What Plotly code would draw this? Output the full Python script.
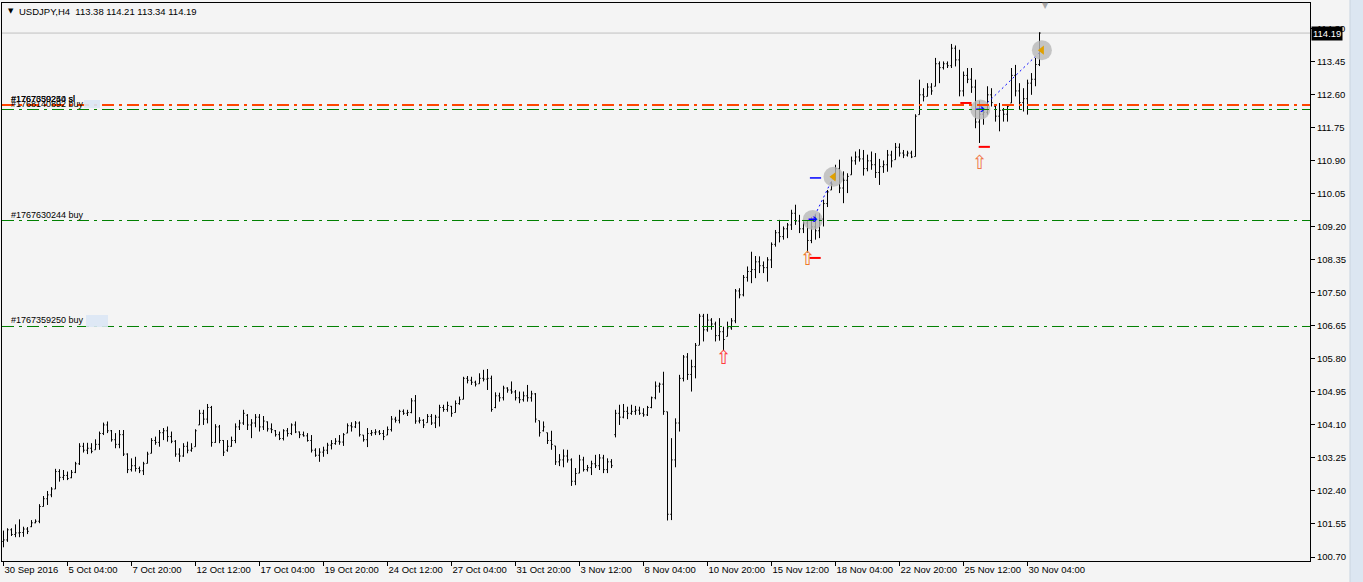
import plotly.graph_objects as go

# ---------------- data ----------------
x_tick_labels = ["30 Sep 2016", "5 Oct 04:00", "7 Oct 20:00", "12 Oct 12:00", "17 Oct 04:00",
                 "19 Oct 20:00", "24 Oct 12:00", "27 Oct 04:00", "31 Oct 20:00", "3 Nov 12:00",
                 "8 Nov 04:00", "10 Nov 20:00", "15 Nov 12:00", "18 Nov 04:00", "22 Nov 20:00",
                 "25 Nov 12:00", "30 Nov 04:00"]
x_tick_bars = [0, 16, 32, 48, 64, 80, 96, 112, 128, 144, 160, 176, 192, 208, 224, 240, 256]

price_ticks = [100.70, 101.55, 102.40, 103.25, 104.10, 104.95, 105.80, 106.65, 107.50,
               108.35, 109.20, 110.05, 110.90, 111.75, 112.60, 113.45, 114.30]

bar_open = [
    101.10, 101.14, 101.40, 101.28, 101.32, 101.33, 101.42, 101.48, 101.58, 101.62,
    102.00, 102.20, 102.30, 102.45, 102.90, 102.75, 102.80, 102.74, 102.88, 103.10,
    103.55, 103.45, 103.50, 103.46, 103.60, 103.88, 104.10, 103.95, 103.72, 103.60,
    103.85, 103.35, 102.95, 103.05, 102.98, 102.92, 103.11, 103.37, 103.70, 103.65,
    103.90, 103.95, 103.80, 103.68, 103.35, 103.30, 103.55, 103.45, 103.54, 104.10,
    104.40, 104.25, 104.55, 103.65, 104.05, 103.70, 103.45, 103.55, 103.70, 104.05,
    104.15, 104.35, 104.10, 104.15, 104.30, 104.05, 104.18, 104.00, 103.95, 103.85,
    103.75, 103.95, 103.88, 104.10, 103.92, 103.85, 103.82, 103.70, 103.45, 103.32,
    103.40, 103.45, 103.58, 103.62, 103.68, 103.66, 103.89, 104.08, 104.05, 104.15,
    103.84, 103.72, 103.88, 103.90, 103.92, 103.88, 103.84, 103.98, 104.25, 104.22,
    104.45, 104.40, 104.42, 104.72, 104.20, 104.22, 104.16, 104.32, 104.15, 104.30,
    104.55, 104.50, 104.58, 104.42, 104.65, 104.76, 105.30, 105.25, 105.20, 105.16,
    105.30, 105.28, 105.30, 104.55, 104.85, 104.80, 105.05, 105.00, 104.95, 104.80,
    104.75, 104.85, 104.80, 104.90, 104.21, 103.95, 103.90, 103.70, 103.56, 103.15,
    103.20, 103.30, 103.20, 102.65, 102.86, 103.20, 102.95, 103.00, 103.10, 103.05,
    103.25, 102.95, 103.15, 103.85, 104.40, 104.30, 104.45, 104.40, 104.45, 104.48,
    104.40, 104.36, 104.55, 104.80, 105.10, 105.15, 104.44, 101.80, 103.20, 104.15,
    105.30, 105.85, 105.40, 105.60, 106.15, 106.90, 106.55, 106.80, 106.70, 106.40,
    106.50, 106.38, 106.60, 106.78, 107.55, 107.45, 107.90, 108.05, 108.10, 108.30,
    108.20, 108.15, 108.35, 108.75, 109.05, 108.95, 109.15, 109.25, 109.55, 109.35,
    109.15, 109.30, 108.85, 109.20, 109.10, 109.40, 109.80, 110.15, 110.41, 110.70,
    110.20, 110.40, 110.54, 110.90, 111.00, 110.95, 110.70, 110.90, 110.80, 110.60,
    110.75, 110.80, 111.05, 110.93, 111.25, 111.10, 111.05, 111.10, 111.01, 112.09,
    112.60, 112.56, 112.80, 112.82, 113.40, 113.30, 113.40, 113.35, 113.80, 113.50,
    112.70, 113.10, 113.00, 112.80, 111.90, 112.10, 112.15, 112.60, 112.30, 112.05,
    112.20, 112.10, 112.39, 113.10, 112.70, 112.40, 112.50, 112.90, 113.00, 113.38]

bar_high = [
    101.38, 101.44, 101.44, 101.54, 101.67, 101.48, 101.47, 101.65, 101.67, 102.06,
    102.27, 102.40, 102.50, 102.97, 102.96, 102.94, 102.90, 102.94, 103.15, 103.63,
    103.64, 103.64, 103.63, 103.73, 103.93, 104.16, 104.19, 103.97, 103.89, 103.97,
    103.97, 103.37, 103.24, 103.28, 103.03, 103.15, 103.41, 103.76, 103.80, 103.97,
    104.02, 104.06, 103.93, 103.71, 103.50, 103.63, 103.67, 103.63, 103.99, 104.49,
    104.49, 104.64, 104.59, 104.12, 104.10, 103.71, 103.71, 103.80, 104.14, 104.23,
    104.49, 104.38, 104.25, 104.38, 104.38, 104.33, 104.19, 104.14, 103.97, 103.93,
    103.99, 104.02, 104.14, 104.19, 103.93, 103.93, 103.89, 103.84, 103.50, 103.50,
    103.54, 103.64, 103.71, 103.76, 103.84, 103.89, 104.14, 104.17, 104.20, 104.19,
    103.84, 104.02, 103.97, 103.99, 103.97, 103.97, 104.06, 104.33, 104.31, 104.49,
    104.50, 104.49, 104.79, 104.87, 104.30, 104.25, 104.38, 104.38, 104.36, 104.62,
    104.62, 104.70, 104.59, 104.73, 104.83, 105.34, 105.36, 105.34, 105.24, 105.43,
    105.52, 105.54, 105.37, 104.94, 104.93, 105.11, 105.07, 105.22, 105.00, 104.96,
    104.96, 105.13, 104.98, 104.92, 104.21, 104.19, 103.90, 103.95, 103.56, 103.35,
    103.47, 103.46, 103.24, 102.99, 103.33, 103.28, 103.07, 103.18, 103.33, 103.35,
    103.33, 103.24, 103.22, 104.49, 104.62, 104.64, 104.57, 104.62, 104.59, 104.57,
    104.53, 104.59, 104.83, 105.22, 105.19, 105.47, 104.44, 103.76, 104.27, 105.39,
    105.90, 105.95, 105.78, 106.21, 106.96, 106.96, 106.96, 106.85, 106.76, 106.85,
    106.63, 106.76, 106.85, 107.60, 107.62, 107.96, 108.18, 108.56, 108.45, 108.44,
    108.31, 108.42, 108.80, 109.12, 109.38, 109.21, 109.30, 109.64, 109.77, 109.51,
    109.38, 109.38, 109.45, 109.51, 109.55, 109.90, 110.15, 110.37, 110.80, 110.93,
    110.63, 110.58, 111.01, 111.14, 111.20, 111.18, 111.06, 111.14, 111.10, 110.95,
    110.91, 111.18, 111.16, 111.36, 111.35, 111.18, 111.16, 111.16, 112.10, 112.99,
    112.77, 112.90, 112.90, 113.55, 113.46, 113.46, 113.46, 113.91, 113.87, 113.76,
    113.20, 113.29, 113.29, 112.99, 112.45, 112.22, 112.82, 112.77, 112.34, 112.39,
    112.26, 112.34, 113.29, 113.37, 112.90, 112.77, 112.99, 113.16, 113.55, 114.21]

bar_low = [
    100.95, 101.09, 101.24, 101.21, 101.21, 101.22, 101.29, 101.47, 101.57, 101.57,
    102.00, 102.04, 102.24, 102.45, 102.64, 102.68, 102.68, 102.73, 102.86, 103.07,
    103.39, 103.35, 103.37, 103.46, 103.46, 103.84, 103.89, 103.67, 103.50, 103.50,
    103.30, 102.86, 102.90, 102.90, 102.86, 102.81, 103.11, 103.37, 103.59, 103.54,
    103.71, 103.67, 103.63, 103.28, 103.15, 103.28, 103.37, 103.41, 103.54, 104.10,
    104.10, 104.14, 103.54, 103.64, 103.63, 103.30, 103.41, 103.54, 103.63, 103.97,
    104.10, 103.97, 103.76, 104.04, 103.93, 103.97, 103.93, 103.89, 103.80, 103.71,
    103.70, 103.80, 103.84, 103.89, 103.76, 103.80, 103.67, 103.39, 103.28, 103.15,
    103.28, 103.35, 103.47, 103.59, 103.59, 103.56, 103.89, 103.93, 104.02, 103.80,
    103.67, 103.53, 103.82, 103.84, 103.84, 103.71, 103.84, 103.93, 104.16, 104.14,
    104.36, 104.33, 104.40, 104.13, 104.14, 104.02, 104.16, 104.10, 104.02, 104.06,
    104.44, 104.44, 104.31, 104.42, 104.62, 104.76, 105.17, 105.13, 105.09, 105.16,
    105.22, 105.00, 104.44, 104.53, 104.70, 104.73, 104.93, 104.90, 104.73, 104.66,
    104.70, 104.70, 104.70, 104.16, 103.80, 103.93, 103.61, 103.46, 103.07, 103.04,
    103.01, 103.13, 102.53, 102.55, 102.86, 102.90, 102.90, 102.81, 102.99, 102.94,
    102.86, 102.86, 102.99, 103.78, 104.10, 104.27, 104.25, 104.36, 104.36, 104.36,
    104.31, 104.33, 104.53, 104.76, 104.93, 104.36, 101.64, 101.65, 103.01, 103.93,
    105.22, 105.26, 104.96, 105.30, 106.16, 106.25, 106.50, 106.55, 106.25, 106.27,
    106.01, 106.38, 106.55, 106.72, 107.36, 107.41, 107.79, 107.75, 107.88, 108.01,
    108.01, 107.79, 108.14, 108.69, 108.80, 108.87, 108.91, 109.12, 109.25, 109.04,
    109.04, 108.54, 108.78, 108.87, 108.91, 109.21, 109.71, 110.15, 110.41, 110.07,
    109.81, 110.07, 110.54, 110.80, 110.88, 110.52, 110.63, 110.67, 110.46, 110.28,
    110.59, 110.62, 110.73, 110.93, 111.01, 110.97, 111.01, 110.97, 111.01, 112.09,
    112.43, 112.56, 112.60, 112.82, 112.90, 113.25, 113.29, 113.29, 113.33, 112.56,
    112.56, 112.90, 112.65, 111.74, 111.36, 111.83, 112.09, 112.30, 111.91, 111.66,
    111.91, 111.91, 112.39, 112.56, 112.22, 112.17, 112.09, 112.60, 112.82, 113.34]

bar_close = [
    101.14, 101.40, 101.28, 101.32, 101.33, 101.42, 101.36, 101.58, 101.62, 102.00,
    102.20, 102.30, 102.45, 102.90, 102.75, 102.80, 102.72, 102.88, 103.10, 103.55,
    103.45, 103.50, 103.42, 103.60, 103.88, 104.10, 103.95, 103.72, 103.60, 103.85,
    103.35, 102.95, 103.05, 102.98, 102.92, 103.10, 103.35, 103.70, 103.65, 103.90,
    103.95, 103.80, 103.68, 103.35, 103.30, 103.55, 103.45, 103.50, 103.95, 104.40,
    104.25, 104.55, 103.65, 104.05, 103.70, 103.40, 103.55, 103.70, 104.05, 104.15,
    104.40, 104.10, 104.15, 104.30, 104.05, 104.20, 104.00, 103.98, 103.85, 103.75,
    103.95, 103.88, 104.10, 103.92, 103.85, 103.82, 103.70, 103.45, 103.32, 103.40,
    103.45, 103.58, 103.62, 103.68, 103.66, 103.85, 104.08, 104.05, 104.15, 103.85,
    103.72, 103.88, 103.90, 103.92, 103.88, 103.80, 103.98, 104.25, 104.22, 104.45,
    104.40, 104.42, 104.72, 104.20, 104.22, 104.10, 104.32, 104.15, 104.30, 104.55,
    104.50, 104.60, 104.40, 104.65, 104.75, 105.30, 105.25, 105.20, 105.15, 105.30,
    105.28, 105.30, 104.50, 104.85, 104.80, 105.05, 105.00, 104.95, 104.80, 104.75,
    104.85, 104.80, 104.90, 104.25, 103.90, 104.05, 103.70, 103.60, 103.15, 103.20,
    103.30, 103.20, 102.65, 102.85, 103.20, 102.95, 103.00, 103.10, 103.05, 103.25,
    102.95, 103.15, 103.05, 104.40, 104.30, 104.45, 104.40, 104.45, 104.48, 104.40,
    104.36, 104.55, 104.80, 105.10, 105.15, 104.45, 101.80, 103.20, 104.15, 105.30,
    105.85, 105.40, 105.60, 106.15, 106.90, 106.55, 106.80, 106.70, 106.40, 106.50,
    106.30, 106.60, 106.78, 107.55, 107.45, 107.90, 108.05, 108.10, 108.30, 108.20,
    108.15, 108.35, 108.75, 109.05, 108.95, 109.15, 109.25, 109.55, 109.35, 109.15,
    109.30, 108.85, 109.20, 109.10, 109.40, 109.80, 110.10, 110.30, 110.70, 110.20,
    110.40, 110.50, 110.90, 111.00, 110.95, 110.70, 110.90, 110.80, 110.60, 110.75,
    110.80, 111.05, 110.90, 111.25, 111.10, 111.05, 111.10, 111.00, 112.05, 112.60,
    112.55, 112.80, 112.70, 113.40, 113.30, 113.40, 113.35, 113.80, 113.50, 112.70,
    113.10, 113.00, 112.80, 111.90, 112.10, 112.15, 112.60, 112.40, 112.05, 112.20,
    112.10, 112.30, 113.10, 112.70, 112.40, 112.50, 112.90, 113.00, 113.38, 114.19]

bar_index = list(range(len(bar_close)))

# order levels
sl_level = 112.338
buy_levels = [112.222, 109.364, 106.635]
buy_labels = ["#1768140892 buy", "#1767630244 buy", "#1767359250 buy"]
sl_labels = ["#1767630244 sl", "#1767359250 sl"]
bid_price = 114.19

# trades (entry -> exit)
entry_bar = [202.3, 244.2]
entry_price = [109.38, 112.22]
exit_bar = [207.5, 259.6]
exit_price = [110.49, 113.75]

# markers
signal_bar = [180, 201, 244]
signal_price = [105.80, 108.35, 110.82]
signal_color = ["#ff3c3c", "#f07828", "#f0784a"]
blue_dash_bar = [203.0]
blue_dash_price = [110.46]
red_dash_bar = [202.9, 240.6, 245.2]
red_dash_price = [108.40, 112.39, 111.26]

# ---------------- layout geometry ----------------
W, H = 1363, 582
ML, MR, MT, MB = 2, 53, 3, 21
PW, PH = W - ML - MR, H - MT - MB
X_RANGE = [-0.375, 326.625]
Y_RANGE = [100.597, 114.964]
BG = "#f4f4f4"
FONT = "Liberation Sans"


def px_x(px):
    return (px - ML) / PW


def px_y(py):
    return (H - MB - py) / PH


fig = go.Figure()

fig.add_trace(go.Ohlc(
    x=bar_index, open=bar_open, high=bar_high, low=bar_low, close=bar_close,
    increasing=dict(line=dict(color="black", width=1)),
    decreasing=dict(line=dict(color="black", width=1)),
    tickwidth=0.3, hoverinfo="skip", showlegend=False))

shapes = []
shapes.append(dict(type="line", xref="paper", yref="y", x0=0, x1=1, y0=bid_price, y1=bid_price,
                   line=dict(color="#c0c0c0", width=1), layer="below"))
for lv in buy_levels:
    shapes.append(dict(type="line", xref="paper", yref="y", x0=0, x1=1, y0=lv, y1=lv,
                       line=dict(color="#008000", width=1, dash="12px,5px,3px,5px")))
shapes.append(dict(type="line", xref="paper", yref="y", x0=0, x1=1, y0=sl_level, y1=sl_level,
                   line=dict(color="#ff4500", width=2, dash="12px,5px,3px,5px")))
shapes.append(dict(type="rect", xref="paper", yref="paper", x0=px_x(86), x1=px_x(108),
                   y0=px_y(327), y1=px_y(315), fillcolor="#dbe7f5", line=dict(width=0), opacity=0.9))
shapes.append(dict(type="rect", xref="paper", yref="paper", x0=px_x(84), x1=px_x(100),
                   y0=px_y(108), y1=px_y(100), fillcolor="#dbe7f5", line=dict(width=0), opacity=0.9))
shapes.append(dict(type="rect", xref="paper", yref="paper", x0=px_x(1350), x1=px_x(1364),
                   y0=px_y(583), y1=px_y(-1), fillcolor="#dce6f1",
                   line=dict(color="#c9d4e0", width=1)))

for eb, ep, xb, xp in zip(entry_bar, entry_price, exit_bar, exit_price):
    fig.add_trace(go.Scatter(x=[eb, xb], y=[ep, xp], mode="lines",
                             line=dict(color="#0000ff", width=1, dash="2px,3px"),
                             hoverinfo="skip", showlegend=False))

fig.add_trace(go.Scatter(x=entry_bar + exit_bar, y=entry_price + exit_price, mode="markers",
                         marker=dict(symbol="circle", size=20, color="#b8b8b8", opacity=0.8),
                         hoverinfo="skip", showlegend=False))
fig.add_trace(go.Scatter(x=entry_bar, y=entry_price, mode="text", text=["➔"] * len(entry_bar),
                         textfont=dict(color="#0000ff", size=12, family="DejaVu Sans"),
                         textposition="middle center", hoverinfo="skip", showlegend=False))
fig.add_trace(go.Scatter(x=exit_bar, y=exit_price, mode="markers",
                         marker=dict(symbol="triangle-left", size=8, color="#e0a000"),
                         hoverinfo="skip", showlegend=False))
fig.add_trace(go.Scatter(x=blue_dash_bar, y=blue_dash_price, mode="markers",
                         marker=dict(symbol="line-ew", size=8, line=dict(color="#0000ff", width=1.5)),
                         hoverinfo="skip", showlegend=False))
fig.add_trace(go.Scatter(x=red_dash_bar, y=red_dash_price, mode="markers",
                         marker=dict(symbol="line-ew", size=8, line=dict(color="#ff0000", width=2)),
                         hoverinfo="skip", showlegend=False))
for sb, sp, sc in zip(signal_bar, signal_price, signal_color):
    fig.add_trace(go.Scatter(x=[sb], y=[sp], mode="text", text=["⇧"],
                             textfont=dict(color=sc, size=19, family="DejaVu Sans"),
                             textposition="middle center", hoverinfo="skip", showlegend=False))

annotations = []
annotations.append(dict(xref="paper", yref="paper", x=px_x(6), y=px_y(11), xanchor="left",
                        yanchor="middle", text="▼", showarrow=False,
                        font=dict(family="DejaVu Sans", size=7, color="black")))
annotations.append(dict(xref="paper", yref="paper", x=px_x(17), y=px_y(11), xanchor="left",
                        yanchor="middle", text="USDJPY,H4  113.38 114.21 113.34 114.19",
                        showarrow=False, font=dict(family=FONT, size=9.5, color="black")))
annotations.append(dict(xref="paper", yref="paper", x=px_x(1045), y=px_y(5), xanchor="center",
                        yanchor="middle", text="▼", showarrow=False,
                        font=dict(family="DejaVu Sans", size=8, color="#a8a8a8")))
for lv, lb in zip(buy_levels, buy_labels):
    annotations.append(dict(xref="paper", yref="y", x=px_x(9), y=lv, xanchor="left",
                            yanchor="middle", yshift=6, text=lb, showarrow=False,
                            font=dict(family=FONT, size=9, color="black")))
for lb in sl_labels:
    annotations.append(dict(xref="paper", yref="y", x=px_x(9), y=sl_level, xanchor="left",
                            yanchor="middle", yshift=6, text=lb, showarrow=False,
                            font=dict(family=FONT, size=9, color="black")))
annotations.append(dict(xref="paper", yref="y", x=1, y=bid_price, xanchor="left", xshift=1,
                        yanchor="middle", text="114.19", showarrow=False, bgcolor="black",
                        borderpad=1, font=dict(family=FONT, size=9.5, color="white")))

fig.update_layout(
    width=W, height=H,
    margin=dict(l=ML, r=MR, t=MT, b=MB, pad=0, autoexpand=False),
    paper_bgcolor=BG, plot_bgcolor=BG,
    showlegend=False, hovermode=False, dragmode=False,
    shapes=shapes, annotations=annotations,
    font=dict(family=FONT, size=9.5, color="black"),
    xaxis=dict(range=X_RANGE, rangeslider=dict(visible=False), showgrid=False, zeroline=False,
               showline=True, linecolor="black", linewidth=1, mirror=True,
               ticks="outside", ticklen=4, tickcolor="black", tickwidth=1,
               tickvals=x_tick_bars, ticktext=x_tick_labels, tickangle=0, automargin=False,
               ticklabelposition="outside right",
               tickfont=dict(family=FONT, size=9.5, color="black")),
    yaxis=dict(range=Y_RANGE, side="right", showgrid=False, zeroline=False,
               showline=True, linecolor="black", linewidth=1, mirror=True, automargin=False,
               ticks="outside", ticklen=4, tickcolor="black", tickwidth=1,
               tickvals=price_ticks, ticktext=[f"{p:.2f}" for p in price_ticks],
               tickfont=dict(family=FONT, size=9.5, color="black")),
)

fig.write_html("out.html", config={"displayModeBar": False, "staticPlot": True})
